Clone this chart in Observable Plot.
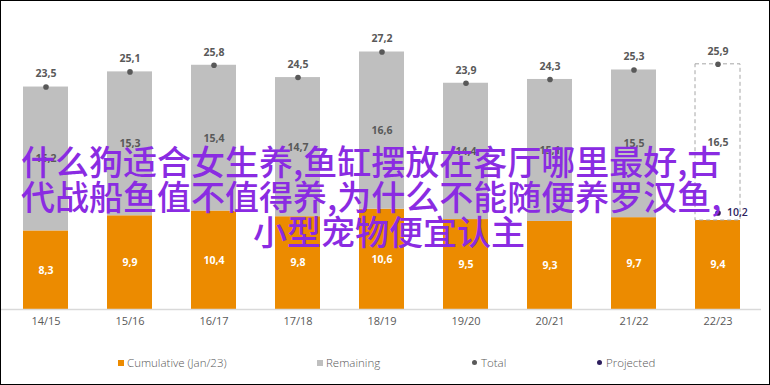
<!DOCTYPE html>
<html>
<head>
<meta charset="utf-8">
<script src="https://cdn.jsdelivr.net/npm/d3@7"></script>
<script src="https://cdn.jsdelivr.net/npm/@observablehq/plot@0.6"></script>
<style>
  html, body { margin: 0; padding: 0; background: #fff; }
  #wrap { position: relative; width: 770px; height: 385px; overflow: hidden; font-family: "Open Sans", "Noto Sans", sans-serif; }
  #chart svg { position: absolute; left: 0; top: 0; }
  #frame { position: absolute; left: 0; top: 0; width: 770px; height: 385px; box-sizing: border-box; border: 1px solid #000; pointer-events: none; }
  .leg { position: absolute; top: 355px; height: 16px; line-height: 16px; font-size: 11.5px; color: #595959; white-space: nowrap; font-weight: 300; }
  .sw { display: inline-block; width: 6px; height: 6px; margin-right: 3px; vertical-align: 1px; }
  .dt { display: inline-block; width: 5px; height: 5px; border-radius: 50%; margin-right: 4px; vertical-align: 2px; }
  #overlay { position: absolute; left: 0; top: 143px; font-family: "Noto Sans CJK SC", sans-serif; font-size: 34px; line-height: 35px; color: #8a2be2; font-weight: 500; white-space: nowrap; pointer-events: none; }
  #overlay div { position: relative; }
</style>
</head>
<body>
<div id="wrap">
  <div id="chart"></div>
  <div id="legend"></div>
  <div id="overlay"></div>
  <div id="frame"></div>
</div>
<script>
const seasons = ["14/15", "15/16", "16/17", "17/18", "18/19", "19/20", "20/21", "21/22", "22/23"];
const cumulative = [8.3, 9.9, 10.4, 9.8, 10.6, 9.5, 9.3, 9.7, 9.4];
const remaining = [15.2, 15.3, 15.4, 14.7, 16.6, 14.4, 15.1, 15.5, 16.5];
const total = [23.5, 25.1, 25.8, 24.5, 27.2, 23.9, 24.3, 25.3, 25.9];
const forecast = [false, false, false, false, false, false, false, false, true];
const projectedSeason = "22/23";
const projectedValue = 10.2;
const legendLabels = ["Cumulative (Jan/23)", "Remaining", "Total", "Projected"];
const overlayLines = ["什么狗适合女生养,鱼缸摆放在客厅哪里最好,古", "代战船鱼值不值得养,为什么不能随便养罗汉鱼,", "小型宠物便宜认主"];

const ORANGE = "#EC8B00", GREY = "#BFBFBF", DARK = "#595959", NAVY = "#2d1e5e";
const fmt = v => v.toFixed(1).replace(".", ",");

const rows = seasons.map((s, i) => ({season: s, cum: cumulative[i], rem: remaining[i], tot: total[i], fc: forecast[i]}));
const proj = [{season: projectedSeason, v: projectedValue}];

const chart = Plot.plot({
  width: 770,
  height: 339,
  marginLeft: 1,
  marginRight: 9,
  marginTop: 25,
  marginBottom: 30,
  style: {fontFamily: '"Open Sans", sans-serif', fontSize: "11px", color: DARK, background: "transparent"},
  x: {domain: seasons, paddingInner: 0.47, paddingOuter: 0.24, label: null, tickSize: 0, tickPadding: 8},
  y: {domain: [0, 30], axis: null},
  marks: [
    Plot.barY(rows, {x: "season", y1: 0, y2: "cum", fill: ORANGE}),
    Plot.barY(rows.filter(d => !d.fc), {x: "season", y1: "cum", y2: "tot", fill: GREY}),
    Plot.barY(rows.filter(d => d.fc), {x: "season", y1: "cum", y2: "tot", fill: "none", stroke: "#A6A6A6", strokeWidth: 1, strokeDasharray: "4,3"}),
    Plot.ruleY([0], {stroke: "#d9d9d9", strokeWidth: 1.5}),
    Plot.text(rows, {x: "season", y: d => d.cum / 2, text: d => fmt(d.cum), fill: "white", fontWeight: "bold", fontSize: 10.5}),
    Plot.text(rows, {x: "season", y: d => (d.cum + d.tot) / 2, text: d => fmt(d.rem), fill: DARK, fontWeight: "bold", fontSize: 10.5}),
    Plot.dot(rows, {x: "season", y: "tot", r: 2.8, fill: DARK}),
    Plot.text(rows, {x: "season", y: "tot", text: d => fmt(d.tot), dy: -13, fill: DARK, fontWeight: "bold", fontSize: 10.5}),
    Plot.dot(proj, {x: "season", y: "v", r: 2.8, fill: NAVY}),
    Plot.text(proj, {x: "season", y: "v", text: d => fmt(d.v), dx: 9, textAnchor: "start", fill: NAVY, fontWeight: 600, fontSize: 10.5})
  ]
});
document.getElementById("chart").appendChild(chart);

// legend
const legend = document.getElementById("legend");
const legLeft = [118, 317, 472, 597];
const legKinds = [["sw", ORANGE], ["sw", GREY], ["dt", DARK], ["dt", NAVY]];
legendLabels.forEach((lab, i) => {
  const d = document.createElement("div");
  d.className = "leg";
  d.style.left = legLeft[i] + "px";
  const s = document.createElement("span");
  s.className = legKinds[i][0];
  s.style.background = legKinds[i][1];
  d.appendChild(s);
  d.appendChild(document.createTextNode(lab));
  legend.appendChild(d);
});

// overlay text
const ov = document.getElementById("overlay");
const ovLeft = [21, 21, 253];
overlayLines.forEach((t, i) => {
  const d = document.createElement("div");
  d.style.left = ovLeft[i] + "px";
  d.textContent = t;
  ov.appendChild(d);
});
</script>
</body>
</html>
